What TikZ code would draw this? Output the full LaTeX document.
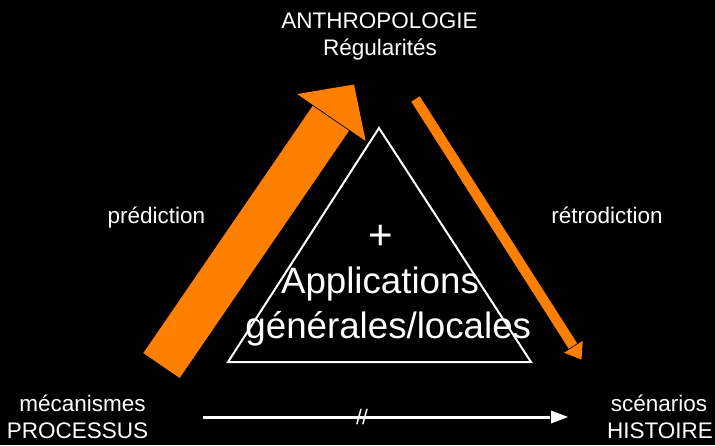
\documentclass[tikz,border=0pt]{standalone}
\usepackage{fontspec}
\setmainfont{Liberation Sans}
\usetikzlibrary{calc}
\definecolor{orng}{RGB}{255,128,0}
\begin{document}
\begin{tikzpicture}[x=1pt,y=-1pt,
  lbl/.style={text=white,font=\fontsize{22.5}{26}\selectfont,inner sep=0pt,anchor=base},
  big/.style={text=white,font=\fontsize{36.7}{44}\selectfont,inner sep=0pt,anchor=base},
  tri/.style={draw=white,line width=2pt,line join=miter}]
\fill[black] (0,0) rectangle (715,445);
\useasboundingbox (0,0) rectangle (715,445);

% labels
\node[lbl] (anthro) at (379.5,28) {ANTHROPOLOGIE};
\node[lbl] (regul) at (380,55) {Régularités};
\node[lbl] (meca) at (82.5,411.5) {mécanismes};
\node[lbl] (proc) at (77.5,438) {PROCESSUS};
\node[lbl] (scen) at (659,411.5) {scénarios};
\node[lbl] (hist) at (660,438) {HISTOIRE};
\node[lbl] (pred) at (156.5,223) {prédiction};
\node[lbl] (retro) at (607,223) {rétrodiction};

% big orange arrow (prediction)
\coordinate (bigTail) at (161.5,365.5);
\coordinate (bigTip) at (354,84.5);
\coordinate (bigB) at ($(bigTip)!40pt!(bigTail)$);
\draw[orng,line width=44pt] (bigTail) -- ($(bigB)!-1pt!(bigTip)$);
\fill[orng] ($(bigB)!41.5pt!90:(bigTip)$) -- (bigTip) -- ($(bigB)!41.5pt!-90:(bigTip)$) -- cycle;

% thin orange arrow (retrodiction)
\coordinate (thinTail) at (415.5,99);
\coordinate (thinTip) at (581.5,359.5);
\coordinate (thinB) at ($(thinTip)!15pt!(thinTail)$);
\draw[orng,line width=10pt] (thinTail) -- ($(thinB)!-1pt!(thinTip)$);
\fill[orng] ($(thinB)!11pt!90:(thinTip)$) -- (thinTip) -- ($(thinB)!11pt!-90:(thinTip)$) -- cycle;

% bottom white arrow
\coordinate (wTail) at (203,417);
\coordinate (wTip) at (568,417);
\coordinate (wB) at ($(wTip)!17pt!(wTail)$);
\draw[white,line width=3pt] (wTail) -- ($(wB)!-1pt!(wTip)$);
\fill[white] ($(wB)!6.5pt!90:(wTip)$) -- (wTip) -- ($(wB)!6.5pt!-90:(wTip)$) -- cycle;
\node[text=white,font=\fontsize{21}{24}\selectfont,inner sep=0pt] (brk) at (362,417) {//};

% central triangle
\coordinate (apex) at (379,128);
\coordinate (bl) at (228,362);
\coordinate (br) at (531,362);
\draw[tri] (apex) -- (bl) -- (br) -- cycle;

\node[text=white,font=\fontsize{42}{48}\selectfont,inner sep=0pt,anchor=base] (plus) at (380.8,249.8) {+};
\node[big] (appl) at (380,293) {Applications};
\node[big] (gen) at (388.3,338) {générales/locales};
\end{tikzpicture}
\end{document}
